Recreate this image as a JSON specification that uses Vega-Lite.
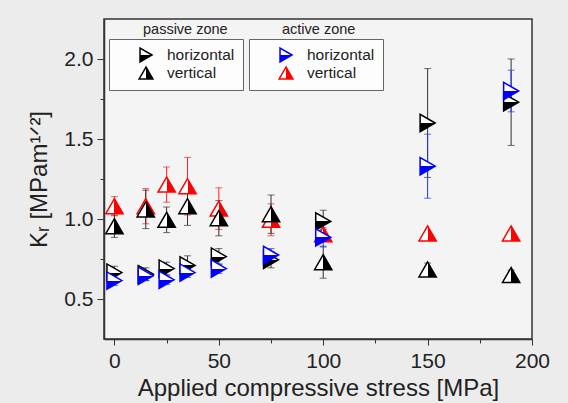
{
  "$schema": "https://vega.github.io/schema/vega-lite/v6.json",
  "width": 428,
  "height": 320,
  "autosize": {"type": "none"},
  "padding": {"left": 104, "top": 19, "right": 36, "bottom": 64},
  "background": "#ececec",
  "config": {
    "font": "Liberation Sans",
    "view": {"stroke": "#333333", "strokeWidth": 1.5, "fill": "#f4f4f4"},
    "axis": {
      "domainColor": "#333333", "domainWidth": 1.5, "tickColor": "#333333", "tickWidth": 1,
      "labelColor": "#222222", "titleColor": "#222222", "labelFontSize": 21, "titleFontSize": 24,
      "titleFontWeight": "normal", "grid": false, "labelFlush": false, "labelOverlap": false, "labelBound": false
    },
    "legend": {"labelFont": "Liberation Sans", "titleFont": "Liberation Sans"}
  },
  "datasets": {
    "pts": [
      {"series": "ph", "zone": "passive", "orient": "horizontal", "s": 0, "k": 0.665, "e": 0.04},
      {"series": "ph", "zone": "passive", "orient": "horizontal", "s": 15, "k": 0.655, "e": 0.04},
      {"series": "ph", "zone": "passive", "orient": "horizontal", "s": 25, "k": 0.69, "e": 0.04},
      {"series": "ph", "zone": "passive", "orient": "horizontal", "s": 35, "k": 0.71, "e": 0.06},
      {"series": "ph", "zone": "passive", "orient": "horizontal", "s": 50, "k": 0.765, "e": 0.05},
      {"series": "ph", "zone": "passive", "orient": "horizontal", "s": 75, "k": 0.745, "e": 0.05},
      {"series": "ph", "zone": "passive", "orient": "horizontal", "s": 100, "k": 0.985, "e": 0.07},
      {"series": "ph", "zone": "passive", "orient": "horizontal", "s": 150, "k": 1.6, "e": 0.34},
      {"series": "ph", "zone": "passive", "orient": "horizontal", "s": 190, "k": 1.73, "e": 0.27},
      {"series": "pv", "zone": "passive", "orient": "vertical", "s": 0, "k": 0.955, "e": 0.07},
      {"series": "pv", "zone": "passive", "orient": "vertical", "s": 15, "k": 1.06, "e": 0.12},
      {"series": "pv", "zone": "passive", "orient": "vertical", "s": 25, "k": 0.995, "e": 0.08},
      {"series": "pv", "zone": "passive", "orient": "vertical", "s": 35, "k": 1.08, "e": 0.12},
      {"series": "pv", "zone": "passive", "orient": "vertical", "s": 50, "k": 1.005, "e": 0.11},
      {"series": "pv", "zone": "passive", "orient": "vertical", "s": 75, "k": 1.03, "e": 0.12},
      {"series": "pv", "zone": "passive", "orient": "vertical", "s": 100, "k": 0.73, "e": 0.1},
      {"series": "pv", "zone": "passive", "orient": "vertical", "s": 150, "k": 0.685, "e": 0.04},
      {"series": "pv", "zone": "passive", "orient": "vertical", "s": 190, "k": 0.65, "e": 0.03},
      {"series": "ah", "zone": "active", "orient": "horizontal", "s": 0, "k": 0.615, "e": 0.03},
      {"series": "ah", "zone": "active", "orient": "horizontal", "s": 15, "k": 0.645, "e": 0.03},
      {"series": "ah", "zone": "active", "orient": "horizontal", "s": 25, "k": 0.62, "e": 0.03},
      {"series": "ah", "zone": "active", "orient": "horizontal", "s": 35, "k": 0.665, "e": 0.03},
      {"series": "ah", "zone": "active", "orient": "horizontal", "s": 50, "k": 0.69, "e": 0.03},
      {"series": "ah", "zone": "active", "orient": "horizontal", "s": 75, "k": 0.775, "e": 0.04},
      {"series": "ah", "zone": "active", "orient": "horizontal", "s": 100, "k": 0.885, "e": 0.06},
      {"series": "ah", "zone": "active", "orient": "horizontal", "s": 150, "k": 1.33, "e": 0.2},
      {"series": "ah", "zone": "active", "orient": "horizontal", "s": 190, "k": 1.8, "e": 0.13},
      {"series": "av", "zone": "active", "orient": "vertical", "s": 0, "k": 1.08, "e": 0.06},
      {"series": "av", "zone": "active", "orient": "vertical", "s": 15, "k": 1.08, "e": 0.11},
      {"series": "av", "zone": "active", "orient": "vertical", "s": 25, "k": 1.215, "e": 0.11},
      {"series": "av", "zone": "active", "orient": "vertical", "s": 35, "k": 1.205, "e": 0.18},
      {"series": "av", "zone": "active", "orient": "vertical", "s": 50, "k": 1.065, "e": 0.13},
      {"series": "av", "zone": "active", "orient": "vertical", "s": 75, "k": 0.995, "e": 0.1},
      {"series": "av", "zone": "active", "orient": "vertical", "s": 100, "k": 0.905, "e": 0.03},
      {"series": "av", "zone": "active", "orient": "vertical", "s": 150, "k": 0.91, "e": 0},
      {"series": "av", "zone": "active", "orient": "vertical", "s": 190, "k": 0.91, "e": 0}
    ]
  },
  "data": {"name": "pts"},
  "encoding": {
    "x": {
      "field": "s", "type": "quantitative",
      "scale": {"domain": [-5, 200], "nice": false, "zero": false},
      "axis": {
        "values": [0, 25, 50, 75, 100, 125, 150, 175, 200],
        "labelExpr": "datum.value % 50 === 0 ? datum.label : ''",
        "tickSize": {"condition": {"test": "datum.value % 50 === 0", "value": 6}, "value": 4},
        "labelPadding": 5, "titlePadding": 5,
        "title": "Applied compressive stress [MPa]"
      }
    },
    "y": {
      "field": "k", "type": "quantitative",
      "scale": {"domain": [0.25, 2.25], "nice": false, "zero": false},
      "axis": {
        "values": [0.5, 0.75, 1, 1.25, 1.5, 1.75, 2],
        "labelExpr": "(datum.value * 2) % 1 === 0 ? format(datum.value, '.1f') : ''",
        "tickSize": {"condition": {"test": "(datum.value * 2) % 1 === 0", "value": 7}, "value": 4},
        "labelPadding": 4, "titlePadding": 12,
        "title": "K\u1d63 [MPam\u00b9\u141f\u00b2]"
      }
    }
  },
  "layer": [
    {
      "transform": [{"filter": "datum.zone === 'passive'"}],
      "mark": {
        "type": "point", "opacity": 0, "filled": true, "strokeWidth": 1.5, "stroke": "black",
        "fill": {"expr": "datum.value === 'horizontal' ? {gradient: 'linear', x1: 0, y1: 0, x2: 0, y2: 1, stops: [{offset: 0, color: 'white'}, {offset: 0.5, color: 'white'}, {offset: 0.5, color: 'black'}, {offset: 1, color: 'black'}]} : {gradient: 'linear', x1: 0, y1: 0, x2: 1, y2: 0, stops: [{offset: 0, color: 'white'}, {offset: 0.5, color: 'white'}, {offset: 0.5, color: 'black'}, {offset: 1, color: 'black'}]}"}
      },
      "encoding": {
        "strokeDash": {
          "field": "zone", "type": "nominal",
          "legend": {
            "title": "passive zone", "orient": "none", "legendX": 39, "legendY": 4, "padding": 0,
            "titleFontSize": 14.5, "titleFontWeight": "normal", "titleColor": "#222222", "titleAnchor": "start",
            "labelExpr": "''", "labelOpacity": 0, "symbolOpacity": 0, "labelFontSize": 6, "symbolSize": 10
          }
        },
        "shape": {
          "field": "orient", "type": "nominal",
          "scale": {"domain": ["horizontal", "vertical"], "range": ["triangle-right", "triangle-up"]},
          "legend": {
            "title": null, "orient": "none", "legendX": 5, "legendY": 20,
            "symbolOpacity": 1, "symbolSize": 190, "symbolOffset": 21, "labelOffset": 13,
            "padding": 8, "rowPadding": -3,
            "labelFontSize": 15.5, "labelColor": "#222222", "strokeColor": "#666666", "fillColor": "#fdfdfd",
            "symbolStrokeWidth": 1.5
          }
        }
      }
    },
    {
      "transform": [{"filter": "datum.zone === 'active'"}],
      "mark": {
        "type": "point", "opacity": 0, "filled": true, "strokeWidth": 1.5,
        "stroke": {"expr": "datum.value === 'horizontal' ? '#0000ff' : '#ff0000'"},
        "fill": {"expr": "datum.value === 'horizontal' ? {gradient: 'linear', x1: 0, y1: 0, x2: 0, y2: 1, stops: [{offset: 0, color: 'white'}, {offset: 0.5, color: 'white'}, {offset: 0.5, color: '#0000ff'}, {offset: 1, color: '#0000ff'}]} : {gradient: 'linear', x1: 0, y1: 0, x2: 1, y2: 0, stops: [{offset: 0, color: 'white'}, {offset: 0.5, color: 'white'}, {offset: 0.5, color: '#ff0000'}, {offset: 1, color: '#ff0000'}]}"}
      },
      "encoding": {
        "strokeDash": {
          "field": "zone", "type": "nominal",
          "legend": {
            "title": "active zone", "orient": "none", "legendX": 178, "legendY": 4, "padding": 0,
            "titleFontSize": 14.5, "titleFontWeight": "normal", "titleColor": "#222222", "titleAnchor": "start",
            "labelExpr": "''", "labelOpacity": 0, "symbolOpacity": 0, "labelFontSize": 6, "symbolSize": 10
          }
        },
        "shape": {
          "field": "orient", "type": "nominal",
          "scale": {"domain": ["horizontal", "vertical"], "range": ["triangle-right", "triangle-up"]},
          "legend": {
            "title": null, "orient": "none", "legendX": 145, "legendY": 20,
            "symbolOpacity": 1, "symbolSize": 190, "symbolOffset": 21, "labelOffset": 13,
            "padding": 8, "rowPadding": -3,
            "labelFontSize": 15.5, "labelColor": "#222222", "strokeColor": "#666666", "fillColor": "#fdfdfd",
            "symbolStrokeWidth": 1.5
          }
        }
      }
    },
    {
      "transform": [{"filter": "datum.series === 'av'"}],
      "mark": {"type": "errorbar", "color": "#ff2020", "thickness": 1, "ticks": {"size": 7}},
      "encoding": {"yError": {"field": "e"}}
    },
    {
      "transform": [{"filter": "datum.series === 'pv'"}],
      "mark": {"type": "errorbar", "color": "#333333", "thickness": 1, "ticks": {"size": 7}},
      "encoding": {"yError": {"field": "e"}}
    },
    {
      "transform": [{"filter": "datum.series === 'ph'"}],
      "mark": {"type": "errorbar", "color": "#333333", "thickness": 1, "ticks": {"size": 7}},
      "encoding": {"yError": {"field": "e"}}
    },
    {
      "transform": [{"filter": "datum.series === 'ah'"}],
      "mark": {"type": "errorbar", "color": "#2030ff", "thickness": 1, "ticks": {"size": 7}},
      "encoding": {"yError": {"field": "e"}}
    },
    {
      "transform": [{"filter": "datum.series === 'av'"}],
      "mark": {"type": "point", "shape": "triangle-up", "size": 300, "filled": true, "opacity": 1, "stroke": "#ff0000", "strokeWidth": 1.5,
        "fill": {"gradient": "linear", "x1": 0, "y1": 0, "x2": 1, "y2": 0, "stops": [{"offset": 0, "color": "white"}, {"offset": 0.5, "color": "white"}, {"offset": 0.5, "color": "#ff0000"}, {"offset": 1, "color": "#ff0000"}]}}
    },
    {
      "transform": [{"filter": "datum.series === 'pv'"}],
      "mark": {"type": "point", "shape": "triangle-up", "size": 300, "filled": true, "opacity": 1, "stroke": "black", "strokeWidth": 1.5,
        "fill": {"gradient": "linear", "x1": 0, "y1": 0, "x2": 1, "y2": 0, "stops": [{"offset": 0, "color": "white"}, {"offset": 0.5, "color": "white"}, {"offset": 0.5, "color": "black"}, {"offset": 1, "color": "black"}]}}
    },
    {
      "transform": [{"filter": "datum.series === 'ph'"}],
      "mark": {"type": "point", "shape": "triangle-right", "size": 300, "filled": true, "opacity": 1, "stroke": "black", "strokeWidth": 1.5,
        "fill": {"gradient": "linear", "x1": 0, "y1": 0, "x2": 0, "y2": 1, "stops": [{"offset": 0, "color": "white"}, {"offset": 0.5, "color": "white"}, {"offset": 0.5, "color": "black"}, {"offset": 1, "color": "black"}]}}
    },
    {
      "transform": [{"filter": "datum.series === 'ah'"}],
      "mark": {"type": "point", "shape": "triangle-right", "size": 300, "filled": true, "opacity": 1, "stroke": "#0000ff", "strokeWidth": 1.5,
        "fill": {"gradient": "linear", "x1": 0, "y1": 0, "x2": 0, "y2": 1, "stops": [{"offset": 0, "color": "white"}, {"offset": 0.5, "color": "white"}, {"offset": 0.5, "color": "#0000ff"}, {"offset": 1, "color": "#0000ff"}]}}
    }
  ],
  "resolve": {"scale": {"shape": "independent", "strokeDash": "independent"}}
}
